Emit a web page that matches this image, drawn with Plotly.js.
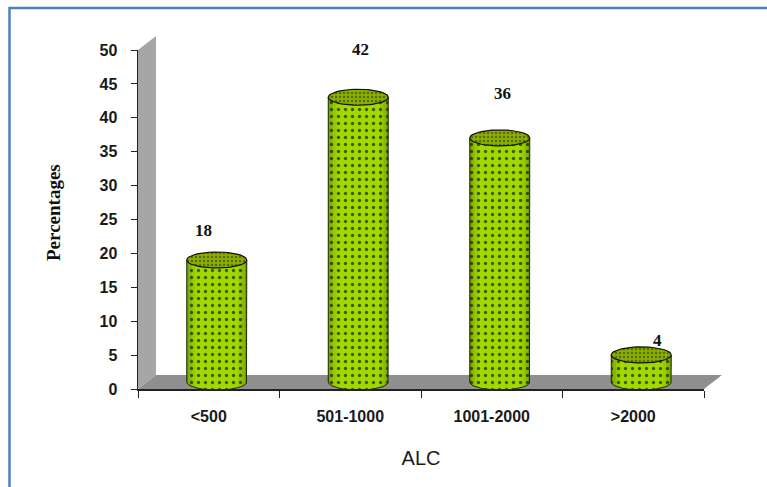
<!DOCTYPE html>
<html>
<head>
<meta charset="utf-8">
<script src="https://cdn.plot.ly/plotly-3.0.1.min.js"></script>
<style>html,body{margin:0;padding:0;background:#fff}#chart{width:767px;height:487px}</style>
</head>
<body>
<div id="chart"></div>
<script>
// ALC distribution, shown as pseudo-3D cylinders
const categories = ['<500', '501-1000', '1001-2000', '>2000'];
const percentages = [18, 42, 36, 4];
const yTicks = [0, 5, 10, 15, 20, 25, 30, 35, 40, 45, 50];

const W = 767, H = 487;
const sans = 'Liberation Sans, Arial, sans-serif';
const serif = 'Liberation Serif, Times New Roman, serif';
const px = v => v / W;
const py = v => 1 - v / H;

// Front plane of the plot box, and the mid-depth plane the cylinders stand on
const box = {l: 138, r: 704, t: 50, b: 389};
const depth = {dx: 8, dy: 7};
const unitY = (box.b - box.t) / 50;
const slot = (box.r - box.l) / categories.length;
const halfW = 0.5 * 60 / slot;   // cylinder half width, in slots
const halfH = 8 / unitY;         // cap half height, in percentage units
const idx = categories.map((_, i) => i);

const bodyPattern = {shape: '.', size: 7, solidity: 0.17, fgcolor: '#3a5a06', bgcolor: '#a2d800', fillmode: 'replace'};
const topPattern = {shape: '.', size: 4, solidity: 0.3, fgcolor: '#556f00', bgcolor: '#8cae00', fillmode: 'replace'};
const mid = {xaxis: 'x2', yaxis: 'y2', showlegend: false, hoverinfo: 'skip'};
const angles = Array.from({length: 49}, (_, k) => k * Math.PI / 24);

const bodies = {
  ...mid, type: 'bar', x: idx, y: percentages, width: 2 * halfW,
  marker: {color: '#a2d800', pattern: bodyPattern, line: {width: 0}}
};

// Curved underside of each cylinder
function lowerArc(i) {
  const a = angles.slice(0, 25);
  return {x: a.map(t => i + halfW * Math.cos(t)), y: a.map(t => -halfH * Math.sin(t))};
}
const undersides = idx.map(i => ({
  ...mid, type: 'scatter', mode: 'none', fill: 'toself', ...lowerArc(i),
  fillcolor: '#a2d800', fillpattern: bodyPattern
}));

// Edge shading strips, darkest at the outside of the cylinder
const shadeBands = [[0.72, 0.84, 0.08], [0.84, 0.94, 0.18], [0.94, 1, 0.32]];
const shading = shadeBands.map(([a, b, alpha]) => {
  const xs = [], ys = [];
  const under = u => -halfH * Math.sqrt(1 - u * u);
  idx.forEach(i => {
    [[a, b], [-b, -a]].forEach(([p, q]) => {
      xs.push(i + p * halfW, i + p * halfW, i + q * halfW, i + q * halfW, null);
      ys.push(under(p), percentages[i], percentages[i], under(q), null);
    });
  });
  return {...mid, type: 'scatter', mode: 'none', fill: 'toself', x: xs, y: ys, fillcolor: `rgba(20,40,0,${alpha})`};
});

// Side walls and underside drawn as one open outline per cylinder
const outlines = idx.map(i => {
  const arc = lowerArc(i);
  return {
    ...mid, type: 'scatter', mode: 'lines', line: {color: '#1c2a00', width: 1},
    x: [i + halfW, ...arc.x, i - halfW],
    y: [percentages[i], ...arc.y, percentages[i]]
  };
});

const caps = idx.map(i => ({
  ...mid, type: 'scatter', mode: 'lines', fill: 'toself',
  x: angles.map(t => i + halfW * Math.cos(t)),
  y: angles.map(t => percentages[i] + halfH * Math.sin(t)),
  line: {color: '#111', width: 1.2},
  fillcolor: '#8cae00', fillpattern: topPattern
}));

// Invisible carrier so the category axis is drawn
const axisCarrier = {type: 'scatter', mode: 'none', x: categories, y: percentages, showlegend: false, hoverinfo: 'skip'};

const labelNudge = [{x: -13, y: 29}, {x: 2, y: 48}, {x: 3, y: 44}, {x: 16, y: 14}];

const layout = {
  width: W, height: H,
  margin: {l: 0, r: 0, t: 0, b: 0},
  paper_bgcolor: '#fff', plot_bgcolor: 'rgba(0,0,0,0)',
  showlegend: false,
  xaxis: {
    type: 'category', categoryorder: 'array', categoryarray: categories,
    domain: [px(box.l), px(box.r)], range: [-0.5, 3.5], anchor: 'y',
    tickson: 'boundaries', ticks: 'outside', ticklen: 7, tickwidth: 1, tickcolor: '#222',
    showline: true, linecolor: '#222', linewidth: 1.5, showgrid: false, zeroline: false,
    ticklabelstandoff: 12,
    tickfont: {family: sans, size: 16, color: '#1a1a1a', weight: 'bold'},
    title: {text: 'ALC', standoff: 27, font: {family: sans, size: 20, color: '#1a1a1a'}}
  },
  yaxis: {
    domain: [py(box.b), py(box.t)], range: [0, 50], anchor: 'x',
    tickvals: yTicks, ticks: 'outside', ticklen: 6, tickwidth: 1, tickcolor: '#222',
    showline: true, linecolor: '#222', linewidth: 1.5, showgrid: false, zeroline: false,
    ticklabelstandoff: 10,
    tickfont: {family: sans, size: 16, color: '#1a1a1a', weight: 'bold'}
  },
  xaxis2: {
    type: 'linear', anchor: 'y2', visible: false, range: [-0.5, 3.5],
    domain: [px(box.l + depth.dx), px(box.r + depth.dx)]
  },
  yaxis2: {
    anchor: 'x2', visible: false, range: [-1.03, 50],
    domain: [py(box.b), py(box.t - depth.dy)]
  },
  shapes: [
    // Back wall and floor of the 3D box
    {type: 'path', xref: 'paper', yref: 'paper', layer: 'below', line: {width: 0}, fillcolor: '#a6a6a6',
     path: `M${px(138)},${py(389)}L${px(138)},${py(50)}L${px(156)},${py(36)}L${px(156)},${py(375)}Z`},
    {type: 'path', xref: 'paper', yref: 'paper', layer: 'below', line: {width: 0}, fillcolor: '#8f8f8f',
     path: `M${px(138)},${py(389)}L${px(156)},${py(375)}L${px(722)},${py(375)}L${px(704)},${py(389)}Z`},
    // Page frame
    {type: 'line', xref: 'paper', yref: 'paper', x0: px(9), x1: 1, y0: py(8), y1: py(8), line: {color: '#4f81bd', width: 2.5}},
    {type: 'line', xref: 'paper', yref: 'paper', x0: px(9.5), x1: px(9.5), y0: py(7), y1: 0, line: {color: '#4f81bd', width: 2.5}}
  ],
  annotations: [
    ...percentages.map((v, i) => ({
      xref: 'x2', yref: 'y2', x: i, y: v, text: String(v), showarrow: false,
      xshift: labelNudge[i].x, yshift: labelNudge[i].y,
      font: {family: serif, size: 17, color: '#111', weight: 'bold'}
    })),
    // Vertical axis caption
    {xref: 'paper', yref: 'paper', x: px(53), y: py(213), xanchor: 'center', yanchor: 'middle',
     text: 'Percentages', textangle: -90, showarrow: false,
     font: {family: serif, size: 19, color: '#111', weight: 'bold'}}
  ]
};

Plotly.newPlot('chart', [axisCarrier, bodies, ...undersides, ...shading, ...outlines, ...caps], layout,
  {displayModeBar: false, staticPlot: true});
</script>
</body>
</html>
